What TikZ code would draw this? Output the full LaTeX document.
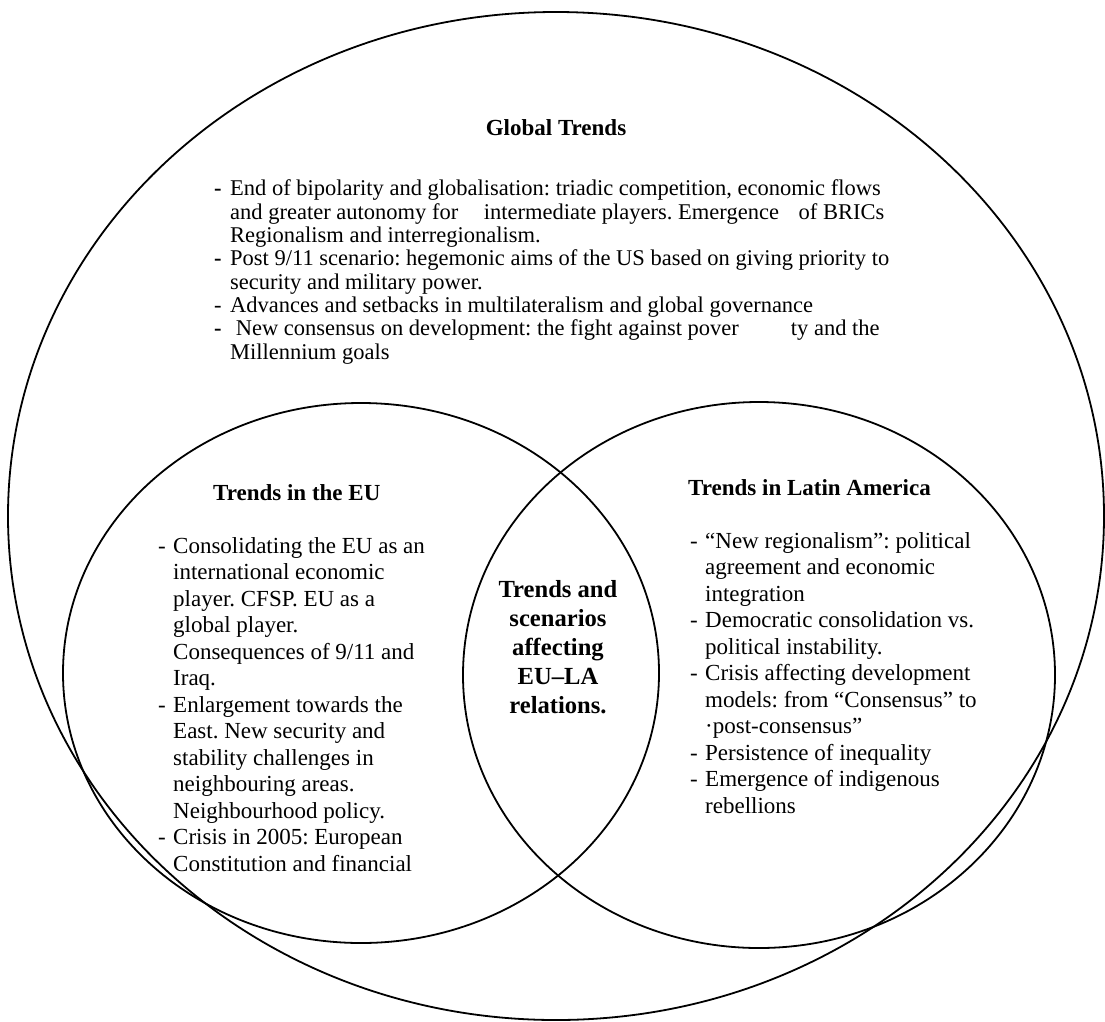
\documentclass[tikz,border=0pt]{standalone}
\usepackage{fontspec}
\setmainfont{Liberation Serif}
\usetikzlibrary{shapes.geometric}
\frenchspacing
\tikzset{
  ring/.style={draw, ellipse, line width=1.8pt, inner sep=0pt},
  headtxt/.style={font=\bfseries\fontsize{23}{26.5}\selectfont, inner sep=0pt, anchor=base west},
  bodytxt/.style={font=\fontsize{23}{26.5}\selectfont, align=left, inner sep=0pt, anchor=base west},
  globtxt/.style={font=\fontsize{22.5}{23.3}\selectfont, align=left, inner sep=0pt, anchor=base west},
  coretxt/.style={font=\bfseries\fontsize{24.6}{29}\selectfont, align=center, inner sep=0pt, anchor=base}
}
\newcommand{\eudash}{\makebox[15pt][l]{-}}
\newcommand{\euind}{\hspace*{15pt}}
\newcommand{\gbdash}{\makebox[16pt][l]{\textbf{-}}}
\newcommand{\gbnd}{\makebox[16pt][l]{-}}
\newcommand{\gbind}{\hspace*{16pt}}
\begin{document}
\begin{tikzpicture}[x=1pt,y=-1pt]
\useasboundingbox (0,0) rectangle (1105,1021);
\fill[white] (0,0) rectangle (1105,1021);
% circles
\node[ring, minimum width=1096pt, minimum height=1008pt] (global) at (556,516) {};
\node[ring, minimum width=596pt, minimum height=540pt] (eu) at (361,673) {};
\node[ring, minimum width=592pt, minimum height=546pt] (la) at (759,675) {};
% global trends (multi-line nodes: base = last line)
\node[headtxt, anchor=base] (globalhead) at (556,135) {Global Trends};
\node[globtxt] (globalbody) at (214,359) {%
\gbdash End of bipolarity and globalisation: triadic competition, economic flows\\
\gbind and greater autonomy for \hspace{20pt}intermediate players. Emergence \hspace{14pt}of BRICs\\
\gbind Regionalism and interregionalism.\\
\gbdash Post 9/11 scenario: hegemonic aims of the US based on giving priority to\\
\gbind security and military power.\\
\gbnd Advances and setbacks in multilateralism and global governance\\
\gbdash\ New consensus on development: the fight against pover\hspace{52pt}ty and the\\
\gbind Millennium goals};
% EU
\node[headtxt] (euhead) at (213,500) {Trends in the EU};
\node[bodytxt] (eubody) at (158,871) {%
\eudash Consolidating the EU as an\\
\euind international economic\\
\euind player. CFSP. EU as a\\
\euind global player.\\
\euind Consequences of 9/11 and\\
\euind Iraq.\\
\eudash Enlargement towards the\\
\euind East. New security and\\
\euind stability challenges in\\
\euind neighbouring areas.\\
\euind Neighbourhood policy.\\
\eudash Crisis in 2005: European\\
\euind Constitution and financial};
% LA
\node[headtxt] (lahead) at (688,495) {Trends in Latin America};
\node[bodytxt] (labody) at (690,813) {%
\eudash “New regionalism”: political\\
\euind agreement and economic\\
\euind integration\\
\eudash Democratic consolidation vs.\\
\euind political instability.\\
\eudash Crisis affecting development\\
\euind models: from “Consensus” to\\
\euind ·post-consensus”\\
\eudash Persistence of inequality\\
\eudash Emergence of indigenous\\
\euind rebellions};
% core
\node[coretxt] (core) at (558,713) {Trends and\\scenarios\\affecting\\EU–LA\\relations.};
\end{tikzpicture}
\end{document}
